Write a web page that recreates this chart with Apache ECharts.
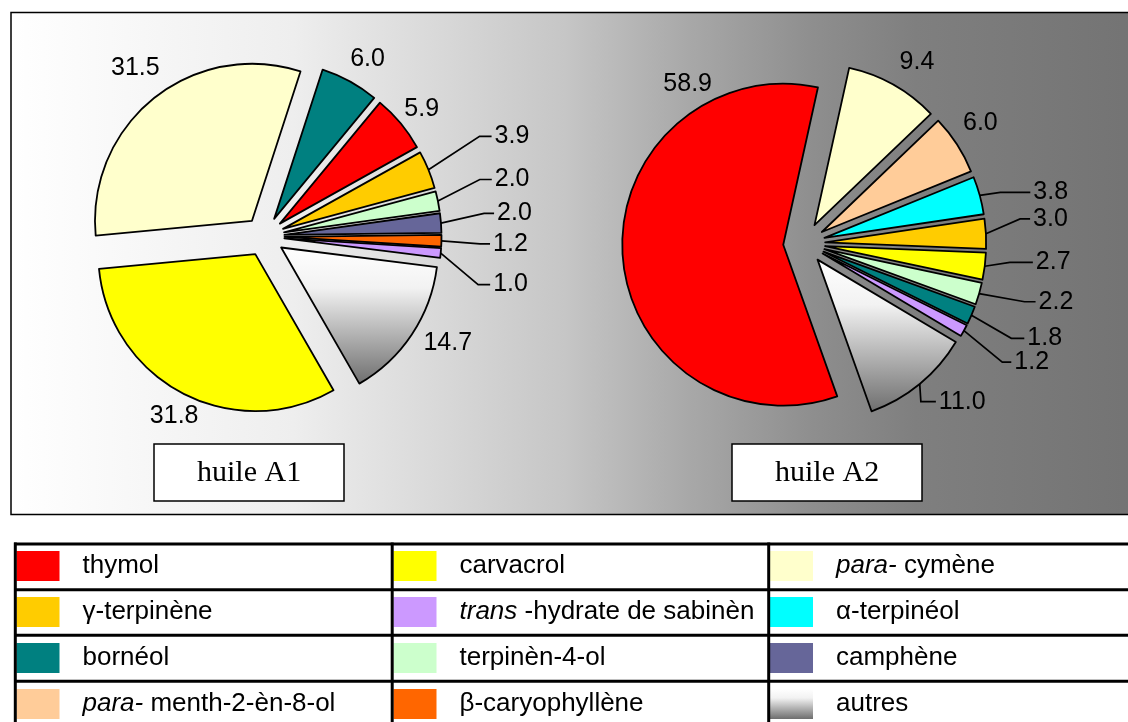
<!DOCTYPE html>
<html>
<head>
<meta charset="utf-8">
<script src="https://cdn.jsdelivr.net/npm/echarts@6/dist/echarts.min.js"></script>
<style>
html,body{margin:0;padding:0;background:#fff;}
#chart{width:1128px;height:722px;}
</style>
</head>
<body>
<div id="chart"></div>
<script>
// ---------------- data ----------------
const namesA1 = ['para-cymène','bornéol','thymol','γ-terpinène','terpinèn-4-ol','camphène','β-caryophyllène','trans-hydrate de sabinène','autres','carvacrol'];
const valuesA1 = [31.5, 6.0, 5.9, 3.9, 2.0, 2.0, 1.2, 1.0, 14.7, 31.8];
const namesA2 = ['thymol','para-cymène','para-menth-2-èn-8-ol','α-terpinéol','γ-terpinène','carvacrol','terpinèn-4-ol','bornéol','trans-hydrate de sabinène','autres'];
const valuesA2 = [58.9, 9.4, 6.0, 3.8, 3.0, 2.7, 2.2, 1.8, 1.2, 11.0];
const pieTitles = ['huile A1', 'huile A2'];
const legendCol1 = ['thymol','γ-terpinène','bornéol','para-menth-2-èn-8-ol'];
const legendCol2 = ['carvacrol','trans-hydrate de sabinène','terpinèn-4-ol','β-caryophyllène'];
const legendCol3 = ['para-cymène','α-terpinéol','camphène','autres'];

// ---------------- styles ----------------
const SANS = '"Liberation Sans", Arial, Helvetica, sans-serif';
const SERIF = '"Liberation Serif", "Times New Roman", Times, serif';
const grayGrad = new echarts.graphic.LinearGradient(0, 0, 0, 1, [
  {offset: 0, color: '#ffffff'}, {offset: 0.3, color: '#f2f2f2'}, {offset: 1, color: '#6e6e6e'}
]);
const colorOf = {
  'thymol': '#FF0000', 'carvacrol': '#FFFF00', 'para-cymène': '#FFFFCC',
  'γ-terpinène': '#FFCC00', 'trans-hydrate de sabinène': '#CC99FF', 'α-terpinéol': '#00FFFF',
  'bornéol': '#008080', 'terpinèn-4-ol': '#CCFFCC', 'camphène': '#666699',
  'para-menth-2-èn-8-ol': '#FFCC99', 'β-caryophyllène': '#FF6600', 'autres': grayGrad
};
// label tuning per slice: [showLine, lineLength, lineLength2, textShiftY]
const tuneA1 = [[false,40.5,-34.2,1.5],[false,28.6,-16.4,2.5],[false,26.5,-19.6,3],[true,55.2,12,-12.5],[true,42.7,12,-13],
                [true,43.2,10,-6.5],[true,38.6,10,2],[true,37.6,12,28],[false,10.8,-0.4,2.5],[false,23.2,-29,2]];
const tuneA2 = [[false,10,-102.4,-171.5],[false,27.6,-10.4,1],[false,40.5,-31,1],[true,21.3,30,2.5],[true,34.2,10,-13],
                [true,25.3,23,-7],[true,47.3,11,-5],[true,43.4,13,6],[true,43.7,9,10.6],[true,1.8,15,16.2]];
const LABEL_H = 30;

function labelFor(t) {
  const dy = t[3];
  const g = Math.max(Math.abs(2 * dy), 1);
  const txt = p => p.value.toFixed(1);
  let formatter;
  if (dy < 0) formatter = p => '{v|' + txt(p) + '}\n{g| }';
  else if (dy > 0) formatter = p => '{g| }\n{v|' + txt(p) + '}';
  else formatter = p => '{v|' + txt(p) + '}';
  return {
    formatter: formatter,
    rich: {
      v: {fontFamily: SANS, fontSize: 25, color: '#000', lineHeight: LABEL_H},
      g: {fontFamily: SANS, fontSize: 1, lineHeight: g}
    }
  };
}

function buildData(names, values, tune) {
  return names.map((n, i) => ({
    name: n, value: values[i], selected: true,
    itemStyle: {color: colorOf[n]},
    labelLine: {show: tune[i][0], length: tune[i][1], length2: tune[i][2]},
    label: labelFor(tune[i])
  }));
}

function pieSeries(names, values, tune, center, radius, startAngle, offset) {
  return {
    type: 'pie',
    center: center,
    radius: radius,
    startAngle: startAngle,
    clockwise: true,
    selectedMode: 'multiple',
    selectedOffset: offset,
    avoidLabelOverlap: false,
    animation: false,
    emphasis: {disabled: true},
    itemStyle: {borderColor: '#000', borderWidth: 1.8},
    select: {itemStyle: {borderColor: '#000', borderWidth: 1.8}},
    label: {
      show: true, position: 'outside',
      fontFamily: SANS, fontSize: 25, color: '#000', lineHeight: LABEL_H, distanceToLabelLine: 3
    },
    labelLine: {lineStyle: {color: '#000', width: 1.7}, smooth: false},
    // keep the leader line attached to the (vertically shifted) label text
    labelLayout: function (p) {
      const t = tune[p.dataIndex];
      const pts = p.labelLinePoints;
      if (!t || !t[0] || !t[3] || !pts || pts.length < 3) return;
      return {labelLinePoints: [pts[0], [pts[1][0], pts[1][1] + t[3]], [pts[2][0], pts[2][1] + t[3]]]};
    },
    data: buildData(names, values, tune)
  };
}

function legendFmt(name) {
  if (name.indexOf('para-') === 0) return '{i|para-} ' + name.slice(5);
  if (name.indexOf('trans-') === 0) return '{i|trans} -' + name.slice(6);
  return name;
}
function legendCol(data, left) {
  return {
    data: data, orient: 'vertical', left: left, top: 551, padding: 0,
    itemWidth: 43, itemHeight: 30, itemGap: 16, icon: 'rect', selectedMode: false,
    itemStyle: {borderWidth: 0},
    formatter: legendFmt,
    textStyle: {
      fontFamily: SANS, fontSize: 26, color: '#000', lineHeight: 30,
      padding: [0, 0, 0, 18], width: 306, overflow: 'truncate', ellipsis: '',
      rich: {i: {fontFamily: SANS, fontSize: 26, fontStyle: 'italic', color: '#000', lineHeight: 30}}
    }
  };
}

function titleBox(text, left) {
  return {
    text: text, left: left, top: 444,
    backgroundColor: '#fff', borderColor: '#000', borderWidth: 1.5,
    padding: [13, 43, 12, 43],
    textStyle: {fontFamily: SERIF, fontSize: 30, fontWeight: 'normal', color: '#000', lineHeight: 32}
  };
}

const bgGrad = new echarts.graphic.LinearGradient(0, 0, 1, 0, [
  {offset: 0, color: '#ffffff'}, {offset: 0.25, color: '#eeeeee'}, {offset: 0.49, color: '#c6c6c6'},
  {offset: 0.6, color: '#a8a8a8'}, {offset: 0.71, color: '#8e8e8e'}, {offset: 0.8, color: '#7f7f7f'},
  {offset: 1, color: '#737373'}
]);

const tableLines = [];
[544, 589.7, 635.3, 681.3].forEach(y => tableLines.push({
  type: 'line', shape: {x1: 14, y1: y, x2: 1140, y2: y}, style: {stroke: '#000', lineWidth: 3}, z: 50
}));
[15.3, 392.2, 768.7].forEach(x => tableLines.push({
  type: 'line', shape: {x1: x, y1: 542.5, x2: x, y2: 730}, style: {stroke: '#000', lineWidth: 3}, z: 50
}));

const option = {
  backgroundColor: '#fff',
  animation: false,
  title: [titleBox(pieTitles[0], 154), titleBox(pieTitles[1], 732)],
  legend: [legendCol(legendCol1, 16.5), legendCol(legendCol2, 393.5), legendCol(legendCol3, 770)],
  graphic: [{
    type: 'rect', z: -10, silent: true,
    shape: {x: 11, y: 12.5, width: 1130, height: 502},
    style: {fill: bgGrad, stroke: '#000', lineWidth: 1.5}
  }].concat(tableLines),
  series: [
    pieSeries(namesA1, valuesA1, tuneA1, [264.5, 236.4], 157, 185.4, 20),
    pieSeries(namesA2, valuesA2, tuneA2, [804.2, 243.4], 161, 289.6, 21)
  ]
};

const chart = echarts.init(document.getElementById('chart'), null, {renderer: 'canvas'});
chart.setOption(option);
</script>
</body>
</html>
